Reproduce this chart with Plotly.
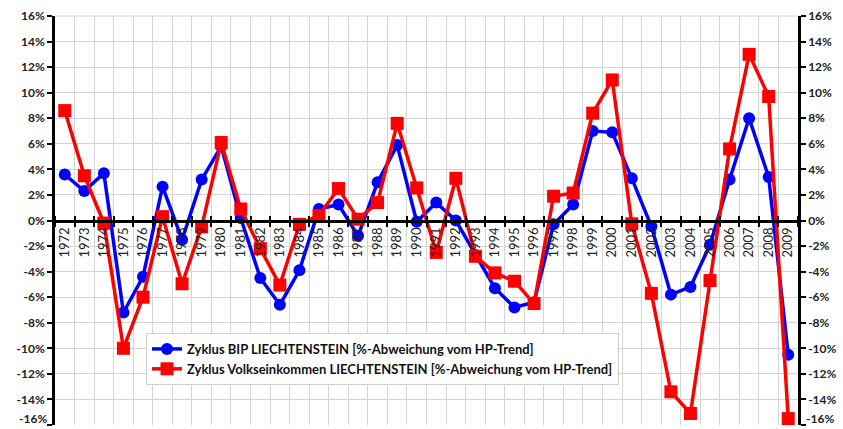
import plotly.graph_objects as go

years = [str(y) for y in range(1972, 2010)]
bip = [3.6, 2.3, 3.7, -7.2, -4.4, 2.65, -1.5, 3.2, 5.8, 0.2, -4.5, -6.6, -3.9, 0.9, 1.25,
       -1.2, 3.0, 5.9, -0.1, 1.4, 0.0, -2.7, -5.3, -6.8, -6.4, -0.3, 1.25, 7.0, 6.9, 3.3,
       -0.45, -5.8, -5.2, -1.9, 3.2, 8.0, 3.4, -10.5]
vek = [8.6, 3.5, -0.2, -10.0, -6.0, 0.3, -4.95, -0.5, 6.1, 0.9, -2.2, -5.05, -0.3, 0.4, 2.5,
       0.1, 1.4, 7.6, 2.55, -2.5, 3.3, -2.8, -4.1, -4.75, -6.5, 1.9, 2.15, 8.4, 11.0, -0.26,
       -5.7, -13.4, -15.1, -4.7, 5.6, 13.0, 9.7, -15.5]
ytickvals = list(range(-16, 17, 2))
yticktext = [f"{v}%" for v in ytickvals]

name_bip = "Zyklus BIP LIECHTENSTEIN [%-Abweichung vom HP-Trend]"
name_vek = "Zyklus Volkseinkommen LIECHTENSTEIN [%-Abweichung vom HP-Trend]"

fig = go.Figure()
fig.add_trace(go.Scatter(x=years, y=bip, xaxis="x2", yaxis="y2", mode="lines", showlegend=False,
                         hoverinfo="skip", line=dict(color="rgba(0,0,0,0)", width=0)))
fig.add_trace(go.Scatter(x=years, y=bip, name=name_bip, mode="lines+markers",
                         line=dict(color="#0000FF", width=3.5),
                         marker=dict(symbol="circle", size=12, color="#0000FF")))
fig.add_trace(go.Scatter(x=years, y=vek, name=name_vek, mode="lines+markers",
                         line=dict(color="#FF0000", width=3.5),
                         marker=dict(symbol="square", size=13, color="#FF0000")))

fam = "Lato, Arial, sans-serif"
tickfont = dict(family=fam, size=12, color="#222222", weight="bold")
fig.update_layout(
    width=843, height=429,
    margin=dict(l=55, r=45, t=16, b=4),
    paper_bgcolor="white", plot_bgcolor="white",
    showlegend=True,
    legend=dict(x=0.1225, y=0.225, xanchor="left", yanchor="top",
                bgcolor="white", bordercolor="#D0D0D0", borderwidth=1,
                font=dict(family=fam, size=13, color="#111111", weight="bold"),
                tracegroupgap=8),
    xaxis=dict(type="category", tickson="boundaries", anchor="free", position=0.5,
               showline=True, linecolor="black", linewidth=2.5,
               ticks="outside", ticklen=5, tickwidth=2, tickcolor="black",
               tickangle=-90, tickfont=dict(family=fam, size=13, color="#222222"),
               showgrid=True, gridcolor="#D4D4D4", gridwidth=1, zeroline=False,
               range=[-0.5, 37.5]),
    xaxis2=dict(type="category", tickson="boundaries", anchor="free", position=0.5,
                overlaying="x", side="top", showline=False,
                ticks="outside", ticklen=5, tickwidth=2, tickcolor="black",
                showticklabels=False, showgrid=False, zeroline=False,
                range=[-0.5, 37.5]),
    yaxis=dict(range=[-16, 16], tickvals=ytickvals, ticktext=yticktext,
               showline=True, linecolor="black", linewidth=2.5,
               ticks="outside", ticklen=5, tickwidth=2, tickcolor="black",
               tickfont=tickfont, showgrid=True, gridcolor="#D4D4D4", gridwidth=1,
               zeroline=False),
    yaxis2=dict(range=[-16, 16], tickvals=ytickvals, ticktext=yticktext,
                overlaying="y", side="right",
                showline=True, linecolor="black", linewidth=2.5,
                ticks="outside", ticklen=5, tickwidth=2, tickcolor="black",
                tickfont=tickfont, showgrid=False, zeroline=False),
)
# bottom tick labels (plotly hides them because they reach past the page edge)
bottom_label = yticktext[0]
bottom_val = ytickvals[0]
fig.add_annotation(text=bottom_label, xref="paper", yref="y", x=0, y=bottom_val,
                   xanchor="right", yanchor="bottom", xshift=-6, yshift=-3, showarrow=False,
                   font=tickfont)
fig.add_annotation(text=bottom_label, xref="paper", yref="y", x=1, y=bottom_val,
                   xanchor="left", yanchor="bottom", xshift=6, yshift=-3, showarrow=False,
                   font=tickfont)
fig.add_shape(type="line", xref="paper", yref="paper", x0=0, x1=1, y0=1, y1=1,
              line=dict(color="#D4D4D4", width=1))
fig.write_html("out.html", config={"displayModeBar": False},
               post_script="document.body.style.margin='0px';")
